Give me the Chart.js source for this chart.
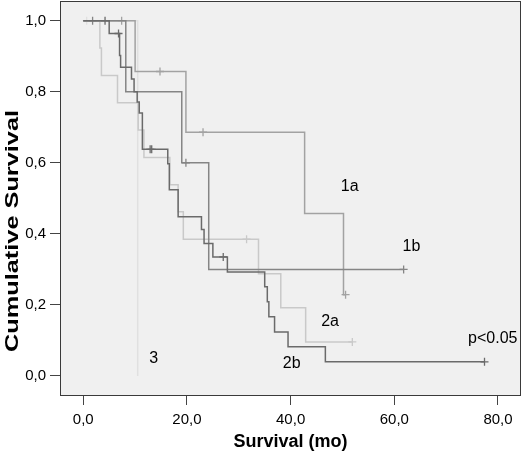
<!DOCTYPE html>
<html>
<head>
<meta charset="utf-8">
<script src="https://cdn.jsdelivr.net/npm/chart.js@4.4.0/dist/chart.umd.min.js"></script>
<style>
  html, body { margin: 0; padding: 0; background: #fff; }
  #wrap { width: 522px; height: 451px; }
</style>
</head>
<body>
<div id="wrap"><canvas id="survivalChart" width="522" height="451"></canvas></div>
<script>
// Kaplan-Meier steps: [months, cumulative survival after the drop]
const group1aSteps = [[0, 1], [10.0, 0.857], [19.8, 0.686], [42.7, 0.457], [50.2, 0.229]];
const group1aCensored = [7.4, 14.8, 23.1, 50.6];

const group1bSteps = [[0, 1], [8.2, 0.8], [19.0, 0.6], [24.2, 0.3]];
const group1bCensored = [1.8, 19.8, 61.8];

const group2aSteps = [[0, 1], [3.2, 0.923], [3.5, 0.846], [6.6, 0.769], [10.6, 0.692], [11.7, 0.615],
  [16.7, 0.538], [18.3, 0.462], [19.3, 0.385], [33.8, 0.288], [38.1, 0.192], [42.9, 0.096]];
const group2aCensored = [31.5, 51.9];

const group2bSteps = [[0, 1], [5.0, 0.964], [7.0, 0.902], [7.2, 0.869], [9.3, 0.836], [9.8, 0.8],
  [10.4, 0.771], [10.8, 0.74], [11.4, 0.638], [16.3, 0.597], [16.6, 0.524], [18.3, 0.448],
  [22.8, 0.412], [23.3, 0.373], [25.0, 0.335], [27.8, 0.293], [35.0, 0.251], [35.5, 0.209],
  [35.8, 0.167], [36.9, 0.124], [39.5, 0.082], [46.7, 0.04]];
const group2bCensored = [4.2, 6.8, 12.9, 13.2, 27.0, 77.4];

const group3Steps = [[0, 1], [10.5, 0]];
const group3Censored = [0.65];

const xTicks = [0, 20, 40, 60, 80];
const yTicks = [0, 0.2, 0.4, 0.6, 0.8, 1.0];

// text written inside the plot, anchored in data units
const annotations = [
  { text: '1a', x: 51.4, y: 0.532 },
  { text: '1b', x: 63.3, y: 0.364 },
  { text: '2a', x: 47.6, y: 0.152 },
  { text: '2b', x: 40.2, y: 0.034 },
  { text: '3', x: 13.6, y: 0.048 },
  { text: 'p<0.05', x: 79.0, y: 0.104 }
];

const FONT = "'Liberation Sans', Arial, Helvetica, sans-serif";
Chart.defaults.font.family = FONT;
Chart.defaults.color = '#000';

function survivalAt(steps, t) {
  let s = 1;
  for (const [time, value] of steps) {
    if (time <= t) s = value;
  }
  return s;
}

function curvePoints(steps, censored) {
  const pts = steps.map(([x, y]) => ({ x, y }));
  const last = steps[steps.length - 1];
  const lastCensor = Math.max(...censored);
  if (lastCensor > last[0]) pts.push({ x: lastCensor, y: last[1] });
  return pts;
}

function censorPoints(steps, censored) {
  return censored.map(t => ({ x: t, y: survivalAt(steps, t) }));
}

const groups = [
  { steps: group2bSteps, censored: group2bCensored, color: '#6a6a6a' },
  { steps: group1bSteps, censored: group1bCensored, color: '#858585' },
  { steps: group1aSteps, censored: group1aCensored, color: '#a2a2a2' },
  { steps: group2aSteps, censored: group2aCensored, color: '#c9c9c9' },
  { steps: group3Steps, censored: group3Censored, color: '#e0e0e0' }
];

const datasets = [];
groups.forEach((g, i) => {
  datasets.push({
    type: 'line',
    data: curvePoints(g.steps, g.censored),
    stepped: 'before',
    borderColor: g.color,
    borderWidth: 1.5,
    pointRadius: 0,
    fill: false,
    order: i * 2
  });
  datasets.push({
    type: 'scatter',
    data: censorPoints(g.steps, g.censored),
    pointStyle: 'cross',
    pointRadius: 4,
    borderColor: g.color,
    borderWidth: 1.3,
    order: i * 2 - 1
  });
});

const fmt = v => v.toFixed(1).replace('.', ',');

const plotDecor = {
  id: 'plotDecor',
  beforeDraw(chart) {
    const { ctx, chartArea: a } = chart;
    ctx.save();
    ctx.fillStyle = '#fff';
    ctx.fillRect(0, 0, chart.width, chart.height);
    ctx.fillStyle = '#f0f0f0';
    ctx.fillRect(a.left, a.top, a.right - a.left, a.bottom - a.top);
    ctx.restore();
  },
  afterDatasetsDraw(chart) {
    const { ctx, scales } = chart;
    ctx.save();
    ctx.fillStyle = '#000';
    ctx.font = '16px ' + FONT;
    ctx.textAlign = 'center';
    ctx.textBaseline = 'middle';
    annotations.forEach(a => {
      ctx.fillText(a.text, scales.x.getPixelForValue(a.x), scales.y.getPixelForValue(a.y));
    });
    ctx.restore();
  },
  afterDraw(chart) {
    const { ctx, chartArea: a } = chart;
    ctx.save();
    ctx.strokeStyle = '#3a3a3a';
    ctx.lineWidth = 1;
    ctx.strokeRect(a.left + 0.5, a.top + 0.5, a.right - a.left - 1, a.bottom - a.top - 1);

    // y axis title, stretched along its length like the original
    const title = 'Cumulative Survival';
    ctx.font = 'bold 18px ' + FONT;
    const w = ctx.measureText(title).width;
    ctx.translate(13, 231);
    ctx.rotate(-Math.PI / 2);
    ctx.scale(242 / w, 1);
    ctx.fillStyle = '#000';
    ctx.textAlign = 'center';
    ctx.textBaseline = 'middle';
    ctx.fillText(title, 0, 0);
    ctx.restore();
  }
};

new Chart(document.getElementById('survivalChart').getContext('2d'), {
  data: { datasets },
  options: {
    responsive: false,
    animation: false,
    events: [],
    layout: { autoPadding: false, padding: { top: 1, right: 1, left: 0, bottom: 0 } },
    plugins: { legend: { display: false }, tooltip: { enabled: false } },
    scales: {
      x: {
        type: 'linear',
        min: -4.49,
        max: 84.44,
        afterBuildTicks: scale => { scale.ticks = xTicks.map(v => ({ value: v })); },
        afterFit: scale => {
          scale.height = 55;
          scale.paddingLeft = 0;
          scale.paddingRight = 0;
        },
        ticks: { callback: fmt, font: { size: 15 }, padding: 6, maxRotation: 0 },
        grid: { drawOnChartArea: false, drawTicks: true, tickLength: 9, color: '#444' },
        border: { display: false },
        title: {
          display: true,
          text: 'Survival (mo)',
          font: { size: 18, weight: 'bold', lineHeight: 1.0 },
          padding: { top: 0, bottom: 0 }
        }
      },
      y: {
        type: 'linear',
        min: -0.0563,
        max: 1.0554,
        afterBuildTicks: scale => { scale.ticks = yTicks.map(v => ({ value: v })); },
        afterFit: scale => {
          scale.width = 60;
          scale.paddingTop = 0;
          scale.paddingBottom = 0;
        },
        ticks: { callback: fmt, font: { size: 15 }, padding: 4 },
        grid: { drawOnChartArea: false, drawTicks: true, tickLength: 10, color: '#444' },
        border: { display: false }
      }
    }
  },
  plugins: [plotDecor]
});
</script>
</body>
</html>
